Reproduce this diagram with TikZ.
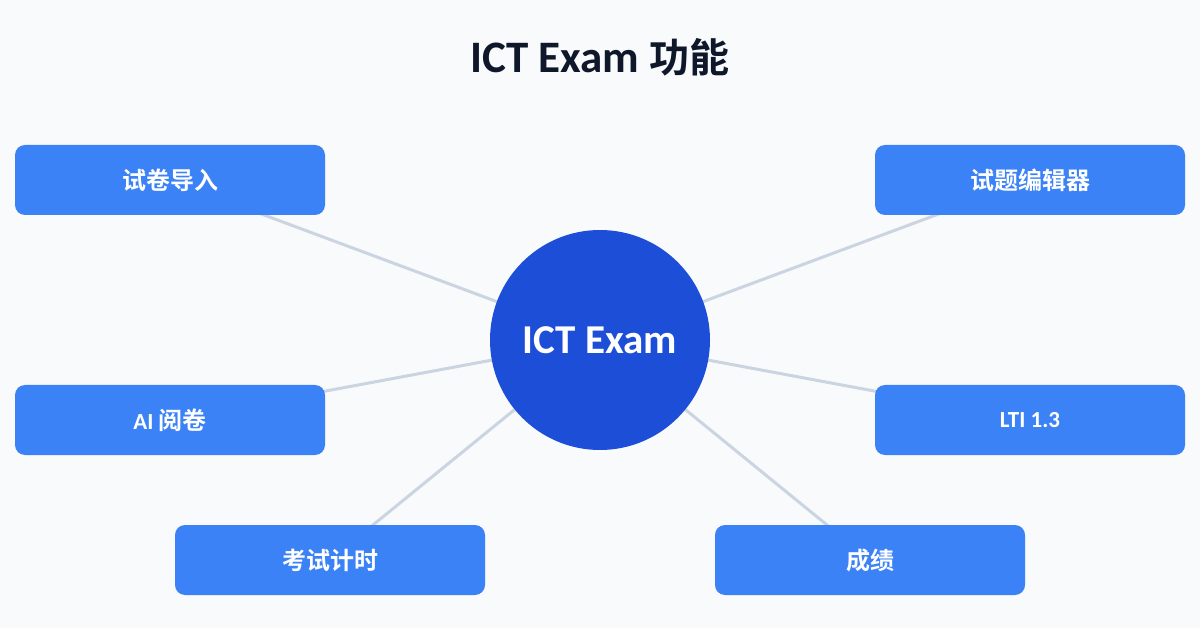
\documentclass[tikz,border=0pt]{standalone}
\usepackage{fontspec}
\setmainfont{Carlito}
\newfontfamily\cjk{Noto Sans CJK SC}[BoldFont={* Bold}]
\definecolor{bg}{HTML}{F8FAFC}
\definecolor{titlec}{HTML}{0F172A}
\definecolor{hub}{HTML}{1D4ED8}
\definecolor{boxc}{HTML}{3B82F6}
\definecolor{linec}{HTML}{CBD5E1}
\begin{document}
\begin{tikzpicture}[x=1pt,y=-1pt,
  featbox/.style={fill=boxc, rounded corners=10pt, minimum width=310pt, minimum height=70pt, inner sep=0pt, text=white, font=\fontsize{23}{28}\selectfont\bfseries},
  boxcjk/.style={font=\cjk\fontsize{24}{28}\selectfont\bfseries},
  hubnode/.style={circle, fill=hub, minimum size=220pt, inner sep=0pt, text=white, font=\fontsize{41}{46}\selectfont\bfseries},
  spoke/.style={draw=linec, line width=3pt}]
\fill[bg] (0,0) rectangle (1200,628);
\useasboundingbox (0,0) rectangle (1200,628);
\node[text=titlec, font=\fontsize{45}{50}\selectfont\bfseries] (title) at (600,57) {ICT Exam {\cjk\fontsize{40}{46}\selectfont 功能}};
\coordinate (hubc) at (600,340);
\coordinate (c1) at (170,180);
\coordinate (c2) at (1030,180);
\coordinate (c3) at (170,420);
\coordinate (c4) at (1030,420);
\coordinate (c5) at (330,560);
\coordinate (c6) at (870,560);
\foreach \c in {c1,c2,c3,c4,c5,c6} {
  \draw[spoke] (hubc) -- (\c);
}
\node[hubnode] (hub) at (hubc) {ICT Exam};
\node[featbox, boxcjk] (b1) at (c1) {试卷导入};
\node[featbox, boxcjk] (b2) at (c2) {试题编辑器};
\node[featbox] (b3) at (c3) {AI {\cjk\fontsize{24}{28}\selectfont 阅卷}};
\node[featbox] (b4) at (c4) {LTI 1.3};
\node[featbox, boxcjk] (b5) at (c5) {考试计时};
\node[featbox, boxcjk] (b6) at (c6) {成绩};
\end{tikzpicture}
\end{document}
